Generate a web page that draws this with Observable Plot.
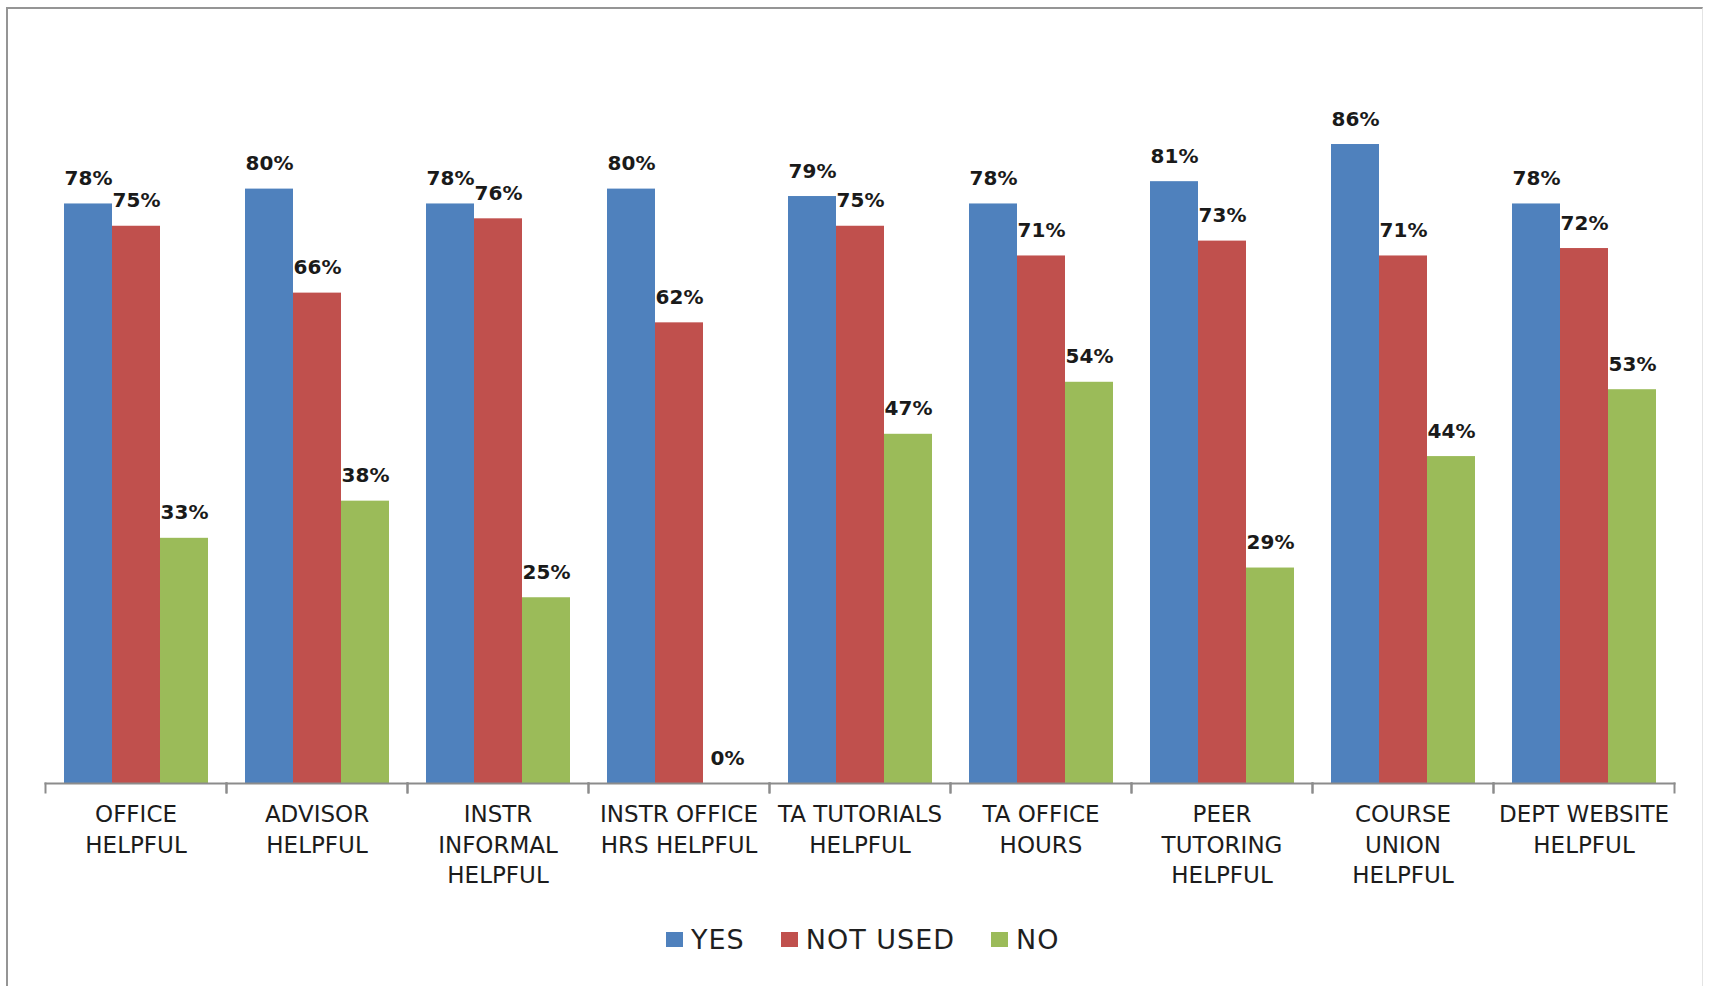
<!DOCTYPE html>
<html>
<head>
<meta charset="utf-8">
<script src="https://cdn.jsdelivr.net/npm/d3@7"></script>
<script src="https://cdn.jsdelivr.net/npm/@observablehq/plot@0.6"></script>
<style>
  html, body { margin: 0; padding: 0; background: #fff; overflow: hidden; }
  #page { position: relative; width: 1711px; height: 986px; }
  #border {
    position: absolute; left: 6px; top: 7px; width: 1697px; height: 990px;
    border-top: 2px solid #959595; border-left: 2px solid #959595; border-right: 1px solid #e4e4e4;
    box-sizing: border-box; pointer-events: none;
  }
  #chart svg { display: block; }
  #legend {
    display: flex; align-items: center; height: 88px; padding-left: 666px;
    font-family: "DejaVu Sans", sans-serif; font-size: 27px; color: #1f1f1f;
    letter-spacing: 1px;
  }
  .item { display: flex; align-items: center; margin-right: 36px; }
  .sw { width: 17px; height: 15px; margin-right: 8px; }
</style>
</head>
<body>
<div id="page">
  <div id="chart"></div>
  <div id="legend"></div>
  <div id="border"></div>
</div>
<script>
// Survey categories and their axis labels (with line breaks)
const categories = [
  "OFFICE HELPFUL", "ADVISOR HELPFUL", "INSTR INFORMAL HELPFUL",
  "INSTR OFFICE HRS HELPFUL", "TA TUTORIALS HELPFUL", "TA OFFICE HOURS",
  "PEER TUTORING HELPFUL", "COURSE UNION HELPFUL", "DEPT WEBSITE HELPFUL"
];
const tickLabels = [
  "OFFICE\nHELPFUL", "ADVISOR\nHELPFUL", "INSTR\nINFORMAL\nHELPFUL",
  "INSTR OFFICE\nHRS HELPFUL", "TA TUTORIALS\nHELPFUL", "TA OFFICE\nHOURS",
  "PEER\nTUTORING\nHELPFUL", "COURSE\nUNION\nHELPFUL", "DEPT WEBSITE\nHELPFUL"
];

// Series
const seriesNames = ["YES", "NOT USED", "NO"];
const seriesColors = ["#4F81BD", "#C0504D", "#9BBB59"];

// Percentages per category
const yesValues     = [78, 80, 78, 80, 79, 78, 81, 86, 78];
const notUsedValues = [75, 66, 76, 62, 75, 71, 73, 71, 72];
const noValues      = [33, 38, 25,  0, 47, 54, 29, 44, 53];

const seriesValues = [yesValues, notUsedValues, noValues];
const rows = categories.flatMap((c, i) =>
  seriesNames.map((s, j) => ({category: c, series: s, value: seriesValues[j][i] / 100}))
);
const labelOf = new Map(categories.map((c, i) => [c, tickLabels[i]]));

const W = 1711, H = 895, mT = 40, mB = 112, mL = 42, mR = 34;
const axisColor = "#8c8c8c";
const pct = d3.format(".0%");

const chart = Plot.plot({
  width: W, height: H,
  marginTop: mT, marginBottom: mB, marginLeft: mL, marginRight: mR,
  style: {fontFamily: "DejaVu Sans, sans-serif", background: "#fff", overflow: "visible"},
  fx: {domain: categories, padding: 0, label: null},
  x: {domain: seriesNames, paddingInner: 0, paddingOuter: 0.36, axis: null},
  y: {domain: [0, 1], axis: null},
  color: {domain: seriesNames, range: seriesColors},
  marks: [
    Plot.barY(rows, {fx: "category", x: "series", y: "value", fill: "series"}),
    Plot.text(rows, {
      fx: "category", x: "series", y: "value", text: d => pct(d.value),
      lineAnchor: "bottom", dy: -19, fontSize: 20, fontWeight: "bold", fill: "#1a1a1a"
    }),
    // category axis line and separator ticks
    Plot.frame({anchor: "bottom", stroke: axisColor, strokeWidth: 2}),
    Plot.frame({anchor: "left", stroke: axisColor, strokeWidth: 2, insetTop: H - mT - mB, insetBottom: -9}),
    Plot.frame({anchor: "right", stroke: axisColor, strokeWidth: 2, insetTop: H - mT - mB, insetBottom: -9}),
    Plot.axisFx({
      anchor: "bottom", tickSize: 0, tickPadding: 17, fontSize: 23, lineHeight: 1.33,
      label: null, tickFormat: d => labelOf.get(d), fill: "#1c1c1c",
      style: {letterSpacing: "0.5px"}
    })
  ]
});
document.getElementById("chart").append(chart);

// Legend built from the same series and colours
const legend = document.getElementById("legend");
seriesNames.forEach((s, i) => {
  const item = document.createElement("div");
  item.className = "item";
  const sw = document.createElement("span");
  sw.className = "sw";
  sw.style.background = seriesColors[i];
  const label = document.createElement("span");
  label.textContent = s;
  item.append(sw, label);
  legend.append(item);
});
</script>
</body>
</html>
